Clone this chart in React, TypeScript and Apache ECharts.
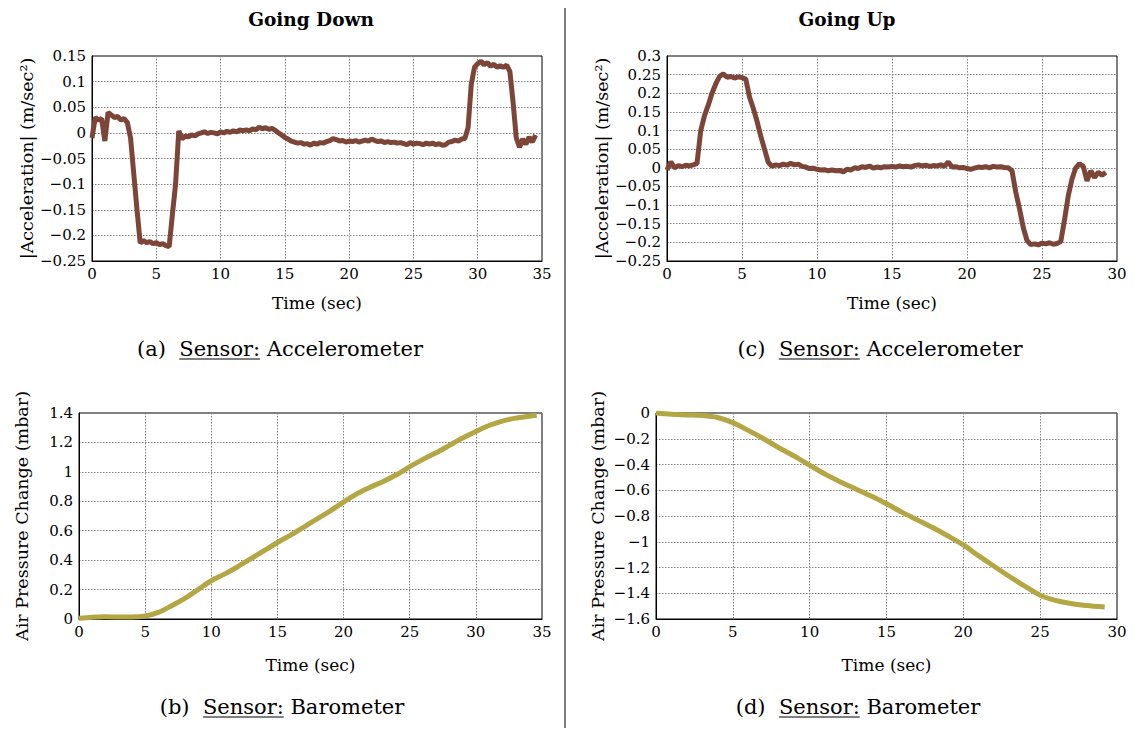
import React, { useEffect, useRef } from "react";
import * as echarts from "echarts";

// Accelerometer traces, sampled every 0.25 s
const ACC_STEP = 0.25;
const accDown: number[] = [
  -0.01, 0.03, 0.025, 0.028, -0.016, 0.04, 0.035, 0.03, 0.032, 0.025, 0.028, 0.02,
  -0.01, -0.08, -0.15, -0.215, -0.21, -0.214, -0.212, -0.216, -0.214, -0.218, -0.216, -0.22,
  -0.222, -0.16, -0.1, 0.004, -0.012, -0.006, -0.008, -0.004, -0.006, -0.002, 0.0, 0.002,
  -0.001, 0.001, 0.0, -0.002, 0.002, 0.0, 0.003, 0.001, 0.004, 0.002, 0.006, 0.004,
  0.006, 0.004, 0.008, 0.006, 0.011, 0.008, 0.01, 0.007, 0.009, 0.005, 0.0, -0.004,
  -0.009, -0.012, -0.016, -0.018, -0.02, -0.019, -0.022, -0.021, -0.024, -0.02, -0.022, -0.019,
  -0.02, -0.017, -0.015, -0.011, -0.013, -0.016, -0.015, -0.018, -0.016, -0.017, -0.015, -0.018,
  -0.016, -0.014, -0.016, -0.012, -0.015, -0.017, -0.016, -0.019, -0.017, -0.019, -0.018, -0.02,
  -0.019, -0.021, -0.023, -0.019, -0.022, -0.02, -0.021, -0.023, -0.02, -0.022, -0.02, -0.023,
  -0.021, -0.024, -0.023, -0.018, -0.017, -0.014, -0.016, -0.012, -0.011, 0.01, 0.095, 0.128,
  0.135, 0.14, 0.133, 0.137, 0.13, 0.134, 0.128, 0.131, 0.128, 0.132, 0.12, 0.06,
  -0.01, -0.028, -0.012, -0.022, -0.008, -0.018, -0.004,
];
const accUp: number[] = [
  -0.006, 0.016, 0.0, 0.006, 0.003, 0.007, 0.005, 0.008, 0.012, 0.1, 0.14, 0.168,
  0.2, 0.225, 0.245, 0.252, 0.243, 0.245, 0.241, 0.244, 0.242, 0.238, 0.19, 0.16,
  0.125, 0.085, 0.05, 0.015, 0.004, 0.008, 0.006, 0.01, 0.007, 0.012, 0.008, 0.01,
  0.004, 0.002, -0.002, -0.001, -0.004, -0.006, -0.005, -0.008, -0.006, -0.008, -0.007, -0.011,
  -0.004, -0.006, 0.0, -0.002, 0.003, 0.001, 0.005, -0.001, 0.002, 0.0, 0.003, 0.002,
  0.004, 0.002, 0.005, 0.003, 0.004, 0.002, 0.006, 0.008, 0.005, 0.007, 0.004, 0.006,
  0.005, 0.008, 0.004, 0.016, 0.002, 0.003, 0.0, 0.001, -0.002, -0.004, -0.001, 0.002,
  0.001, 0.003, 0.0, 0.004, 0.002, 0.003, 0.001, 0.0, -0.008, -0.065, -0.11, -0.16,
  -0.195, -0.206, -0.204, -0.207, -0.202, -0.204, -0.201, -0.205, -0.203, -0.198, -0.14, -0.075,
  -0.03, 0.0, 0.011, 0.004, -0.035, -0.008, -0.026, -0.012, -0.02, -0.012,
];

// Barometer traces (time in s, pressure change in mbar)
const baroDownTime = [0, 1, 2, 3, 4, 5, 6, 7, 8, 9, 10, 11, 12, 13, 14, 15, 16, 17, 18, 19, 20, 21, 22, 23, 24, 25, 26, 27, 28, 29, 30, 31, 32, 33, 34, 34.6];
const baroDownValue = [
  0.005, 0.012, 0.015, 0.014, 0.013, 0.02, 0.045, 0.09, 0.14, 0.2, 0.26, 0.305,
  0.355, 0.41, 0.465, 0.52, 0.57, 0.625, 0.68, 0.735, 0.795, 0.85, 0.895, 0.935,
  0.98, 1.035, 1.085, 1.13, 1.18, 1.23, 1.275, 1.315, 1.345, 1.365, 1.378, 1.385,
];
const baroUpTime = [0, 1, 2, 3, 4, 5, 6, 7, 8, 9, 10, 11, 12, 13, 14, 15, 16, 17, 18, 19, 20, 21, 22, 23, 24, 25, 26, 27, 28, 29.2];
const baroUpValue = [
  0.0, -0.01, -0.015, -0.02, -0.035, -0.075, -0.135, -0.2, -0.27, -0.335, -0.405, -0.475,
  -0.535, -0.59, -0.645, -0.705, -0.77, -0.83, -0.89, -0.955, -1.025, -1.11, -1.19, -1.27,
  -1.345, -1.415, -1.455, -1.48, -1.495, -1.507,
];

const titles = ["Going Down", "Going Up"];
const captions = [
  { tag: "(a)", sensor: "Accelerometer" },
  { tag: "(b)", sensor: "Barometer" },
  { tag: "(c)", sensor: "Accelerometer" },
  { tag: "(d)", sensor: "Barometer" },
];

const ACC_COLOR = "#7c4537";
const BARO_COLOR = "#b3a643";
const SERIF = "DejaVu Serif, serif";

const fmt = (v: number) => String(parseFloat(v.toFixed(3))).replace("-", "\u2212");

function measure(text: string, font: string): number {
  const ctx = document.createElement("canvas").getContext("2d");
  if (!ctx) return text.length * 10;
  ctx.font = font;
  return ctx.measureText(text).width;
}

function xAxis(gridIndex: number, max: number, gap: number) {
  return {
    type: "value",
    gridIndex,
    min: 0,
    max,
    interval: 5,
    name: "Time (sec)",
    nameLocation: "middle",
    nameGap: gap,
    nameTextStyle: { fontFamily: SERIF, fontSize: 17, color: "#000" },
    axisLine: { show: true, onZero: false, lineStyle: { color: "#000", width: 1 } },
    axisTick: { show: false },
    axisLabel: { fontFamily: SERIF, fontSize: 15, color: "#000", margin: 5, formatter: fmt },
    splitLine: { show: true, lineStyle: { color: "#808080", type: [1.5, 1.5], width: 1 } },
  };
}

function yAxis(gridIndex: number, min: number, max: number, interval: number, name: string, gap: number) {
  return {
    type: "value",
    gridIndex,
    min,
    max,
    interval,
    name,
    nameLocation: "middle",
    nameGap: gap,
    nameTextStyle: { fontFamily: SERIF, fontSize: 17.5, color: "#000" },
    axisLine: { show: true, onZero: false, lineStyle: { color: "#000", width: 1 } },
    axisTick: { show: false },
    axisLabel: { fontFamily: SERIF, fontSize: 15, color: "#000", margin: 6, formatter: fmt },
    splitLine: { show: true, lineStyle: { color: "#808080", type: [1.5, 1.5], width: 1 } },
  };
}

function captionGraphic(tag: string, sensor: string, cx: number, cy: number) {
  const font = `21px ${SERIF}`;
  const a = tag + "  ";
  const b = "Sensor:";
  const c = " " + sensor;
  const wa = measure(a, font);
  const wb = measure(b, font);
  const wc = measure(c, font);
  const x0 = cx - (wa + wb + wc) / 2;
  const txt = (s: string, x: number) => ({
    type: "text",
    x,
    y: cy,
    style: { text: s, font, fill: "#000", textAlign: "left", textVerticalAlign: "middle" },
  });
  return [
    txt(a, x0),
    txt(b, x0 + wa),
    txt(c, x0 + wa + wb),
    {
      type: "line",
      shape: { x1: x0 + wa, y1: cy + 10, x2: x0 + wa + wb, y2: cy + 10 },
      style: { stroke: "#000", lineWidth: 1 },
    },
  ];
}

export default function App() {
  const ref = useRef<HTMLDivElement>(null);

  useEffect(() => {
    if (!ref.current) return;
    const chart = echarts.init(ref.current, undefined, { renderer: "svg" });

    const accDownData = accDown.map((v, i) => [i * ACC_STEP, v]);
    const accUpData = accUp.map((v, i) => [i * ACC_STEP, v]);
    const baroDownData = baroDownTime.map((t, i) => [t, baroDownValue[i]]);
    const baroUpData = baroUpTime.map((t, i) => [t, baroUpValue[i]]);

    const gridBase = { show: true, borderColor: "#000", borderWidth: 1, backgroundColor: "transparent", containLabel: false };

    chart.setOption({
      animation: false,
      backgroundColor: "#fff",
      grid: [
        { ...gridBase, left: 92, top: 56, width: 450, height: 205 },
        { ...gridBase, left: 79, top: 413, width: 463, height: 206 },
        { ...gridBase, left: 667, top: 56, width: 450, height: 205 },
        { ...gridBase, left: 656, top: 413, width: 461, height: 206 },
      ],
      xAxis: [xAxis(0, 35, 33), xAxis(1, 35, 37), xAxis(2, 30, 33), xAxis(3, 30, 37)],
      yAxis: [
        yAxis(0, -0.25, 0.15, 0.05, "|Acceleration| (m/sec\u00b2)", 52),
        yAxis(1, 0, 1.4, 0.2, "Air Pressure Change (mbar)", 48),
        yAxis(2, -0.25, 0.3, 0.05, "|Acceleration| (m/sec\u00b2)", 54),
        yAxis(3, -1.6, 0, 0.2, "Air Pressure Change (mbar)", 49),
      ],
      series: [
        { type: "line", xAxisIndex: 0, yAxisIndex: 0, data: accDownData, showSymbol: false, lineStyle: { color: ACC_COLOR, width: 5 } },
        { type: "line", xAxisIndex: 1, yAxisIndex: 1, data: baroDownData, showSymbol: false, smooth: 0.3, lineStyle: { color: BARO_COLOR, width: 5 } },
        { type: "line", xAxisIndex: 2, yAxisIndex: 2, data: accUpData, showSymbol: false, lineStyle: { color: ACC_COLOR, width: 5 } },
        { type: "line", xAxisIndex: 3, yAxisIndex: 3, data: baroUpData, showSymbol: false, smooth: 0.3, lineStyle: { color: BARO_COLOR, width: 5 } },
      ],
      graphic: [
        {
          type: "text",
          x: 311,
          y: 19,
          style: { text: titles[0], font: `bold 18.5px ${SERIF}`, fill: "#000", textAlign: "center", textVerticalAlign: "middle" },
        },
        {
          type: "text",
          x: 847,
          y: 19,
          style: { text: titles[1], font: `bold 18.5px ${SERIF}`, fill: "#000", textAlign: "center", textVerticalAlign: "middle" },
        },
        {
          type: "line",
          shape: { x1: 565, y1: 8, x2: 565, y2: 728 },
          style: { stroke: "#555", lineWidth: 1.5 },
        },
        ...captionGraphic(captions[0].tag, captions[0].sensor, 280, 349),
        ...captionGraphic(captions[1].tag, captions[1].sensor, 282, 707),
        ...captionGraphic(captions[2].tag, captions[2].sensor, 880, 349),
        ...captionGraphic(captions[3].tag, captions[3].sensor, 858, 707),
      ],
    });

    return () => chart.dispose();
  }, []);

  return <div ref={ref} style={{ position: "fixed", left: 0, top: 0, width: 1137, height: 730 }} />;
}
